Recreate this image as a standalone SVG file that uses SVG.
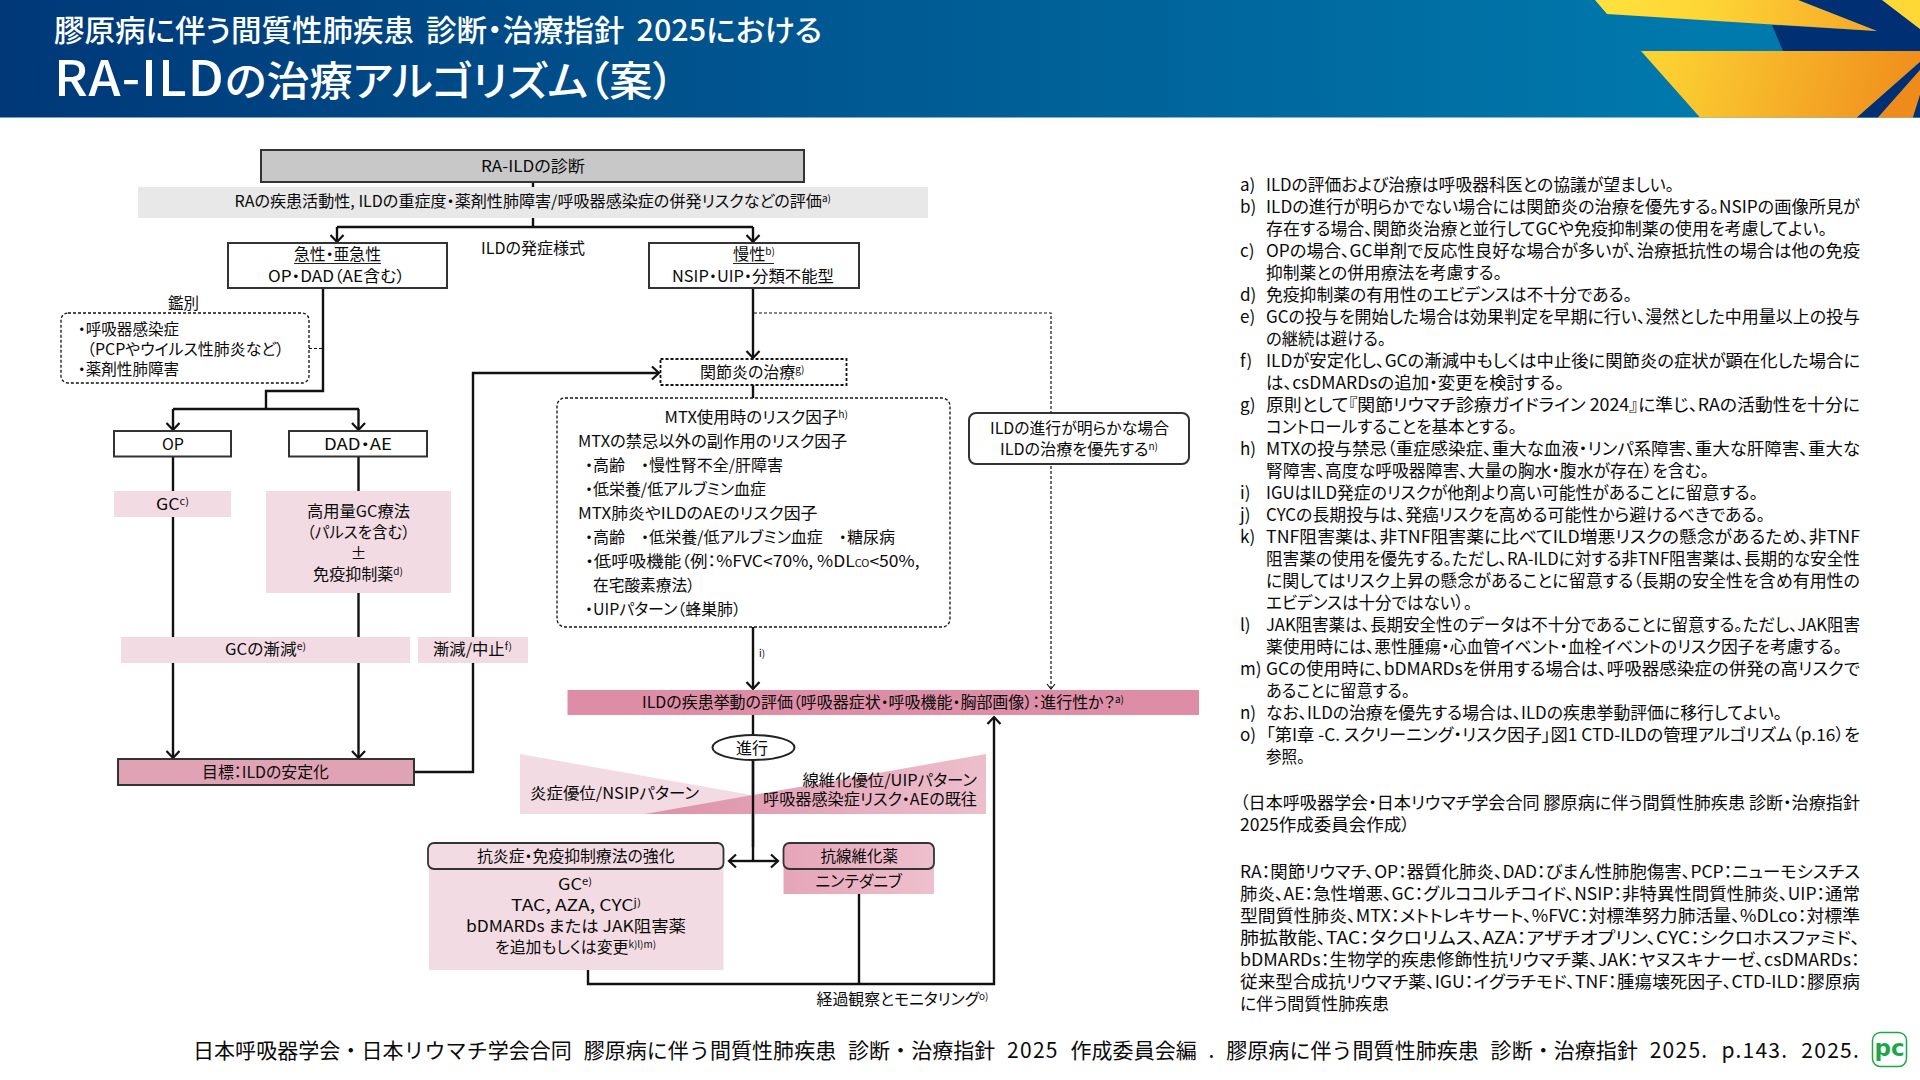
<svg xmlns="http://www.w3.org/2000/svg" width="1920" height="1080" viewBox="0 0 1920 1080">
<defs>
<linearGradient id="hd" x1="0" y1="0" x2="1700" y2="0" gradientUnits="userSpaceOnUse"><stop offset="0" stop-color="#003878"/><stop offset="1" stop-color="#0079ac"/></linearGradient>
<linearGradient id="yl" x1="1595" y1="0" x2="1877" y2="30" gradientUnits="userSpaceOnUse"><stop offset="0" stop-color="#ffe23e"/><stop offset="0.4" stop-color="#fdd535"/><stop offset="1" stop-color="#f7a628"/></linearGradient>
<linearGradient id="or" x1="1660" y1="51" x2="1920" y2="117" gradientUnits="userSpaceOnUse"><stop offset="0" stop-color="#fcd233"/><stop offset="1" stop-color="#ef8b1b"/></linearGradient>
<linearGradient id="tri" x1="645" y1="0" x2="986" y2="0" gradientUnits="userSpaceOnUse"><stop offset="0" stop-color="#dc8aa3"/><stop offset="1" stop-color="#ebb9c8"/></linearGradient>
<linearGradient id="af" x1="784" y1="0" x2="934" y2="0" gradientUnits="userSpaceOnUse"><stop offset="0" stop-color="#e6a5b9"/><stop offset="1" stop-color="#eec0ce"/></linearGradient>
<marker id="ar" markerUnits="userSpaceOnUse" markerWidth="16" markerHeight="16" viewBox="-8 -8 16 16" refX="0" refY="0" orient="auto"><path d="M-7,-6.5 L0,0 L-7,6.5" fill="none" stroke="#111" stroke-width="2.2"/></marker>
<marker id="ars" markerUnits="userSpaceOnUse" markerWidth="12" markerHeight="12" viewBox="-6 -6 12 12" refX="0" refY="0" orient="auto"><path d="M-5,-4 L0,0 L-5,4" fill="none" stroke="#111" stroke-width="1.1"/></marker>
</defs>
<style>
text{font-family:"Noto Sans CJK JP","Noto Sans",sans-serif;fill:#0a0a0a;font-feature-settings:"palt"}
.d{font-size:16px}
.n{font-size:17px}
.f{font-size:21px;font-feature-settings:normal;word-spacing:7px}
.s{font-size:10px}
.t{fill:#fff;font-weight:500}
.bx{fill:#fff;stroke:#333;stroke-width:2}
.dash{fill:#fff;stroke:#111;stroke-width:1.3;stroke-dasharray:3 2}
.ln{fill:none;stroke:#111;stroke-width:2.4}
.lnd{fill:none;stroke:#111;stroke-width:1.2;stroke-dasharray:3 2}
.pk{fill:#f3dbe3}
</style>

<g id="header">
<rect x="0" y="0" width="1920" height="117.5" fill="url(#hd)"/>
<polygon points="1798,0 1877,31 1772,25 1783,51 1920,51 1920,29 1882,0" fill="#002f73"/>
<polygon points="1595,0 1607,14 1877,31 1798,0" fill="url(#yl)"/>
<polygon points="1882,0 1920,0 1920,29" fill="#fdd836"/>
<polygon points="1641,51 1920,51 1920,62 1857,117.5 1700,117.5" fill="url(#or)"/>
<polygon points="1920,62 1857,117.5 1878,117.5 1920,70" fill="#002f73"/>
<polygon points="1920,70 1878,117.5 1913,117.5 1920,95" fill="#ef8b1b"/>
<polygon points="1920,95 1913,117.5 1920,117.5" fill="#002f73"/>
<text class="t" x="54" y="41" font-size="30" word-spacing="5" textLength="768" lengthAdjust="spacingAndGlyphs">膠原病に伴う間質性肺疾患 診断・治療指針 2025における</text>
<text class="t" x="54" y="96" font-size="41" textLength="620" lengthAdjust="spacingAndGlyphs"><tspan font-size="49" letter-spacing="1">RA-ILD</tspan>の治療アルゴリズム（案）</text>
</g>

<g id="connectors">
<path class="ln" d="M533,182V227"/>
<path class="ln" d="M337,227H753"/>
<path class="ln" d="M337,227V242" marker-end="url(#ar)"/>
<path class="ln" d="M753,227V242" marker-end="url(#ar)"/>
<path class="ln" d="M323,288V391H266V409"/>
<path class="ln" d="M173,409H359"/>
<path class="ln" d="M173,409V430" marker-end="url(#ar)"/>
<path class="ln" d="M358.5,409V430" marker-end="url(#ar)"/>
<path class="ln" d="M173,456V758" marker-end="url(#ar)"/>
<path class="ln" d="M358.5,456V758" marker-end="url(#ar)"/>
<path class="ln" d="M414,772H473V373H659" marker-end="url(#ar)"/>
<path class="ln" d="M753,288V358" marker-end="url(#ar)"/>
<path class="ln" d="M753,385V398"/>
<path class="ln" d="M753,627V689" marker-end="url(#ar)"/>
<path class="ln" d="M753,715V861"/>
<path class="ln" d="M753,861H729" marker-end="url(#ar)"/>
<path class="ln" d="M753,861H778" marker-end="url(#ar)"/>
<path class="ln" d="M588,970V984H994V717" marker-end="url(#ar)"/>
<path class="ln" d="M859,894V984"/>
<path class="lnd" d="M309,348.5H323"/>
<path class="lnd" d="M754,313H1051V689" marker-end="url(#ars)"/>
</g>

<g id="node-diagnosis">
<rect x="261" y="150" width="543" height="32" fill="#c8c8c8" stroke="#333" stroke-width="2"/>
<text class="d" x="481" y="171.5" textLength="104" lengthAdjust="spacingAndGlyphs">RA-ILDの診断</text>
</g>
<g id="node-evaluation">
<rect x="138" y="187" width="790" height="31" fill="#e8e8e8"/>
<text class="d" x="234.5" y="206.5" textLength="596.5" lengthAdjust="spacingAndGlyphs">RAの疾患活動性, ILDの重症度・薬剤性肺障害/呼吸器感染症の併発リスクなどの評価<tspan class="s" dy="-5">a)</tspan></text>
</g>
<g id="node-onset-label"><text class="d" x="481" y="253.5" textLength="104" lengthAdjust="spacingAndGlyphs">ILDの発症様式</text></g>
<g id="node-acute">
<rect class="bx" x="228" y="243" width="219" height="45"/>
<text class="d" x="294" y="259.5" textLength="87" lengthAdjust="spacingAndGlyphs">急性・亜急性</text>
<path d="M294,263.5H381" stroke="#222" stroke-width="1"/>
<text class="d" x="268" y="281.5" textLength="137" lengthAdjust="spacingAndGlyphs">OP・DAD（AE含む）</text>
</g>
<g id="node-chronic">
<rect class="bx" x="649" y="243" width="210" height="45"/>
<text class="d" x="733" y="259.5" textLength="42" lengthAdjust="spacingAndGlyphs">慢性<tspan class="s" dy="-5">b)</tspan></text>
<path d="M733,263.5H774" stroke="#222" stroke-width="1"/>
<text class="d" x="672" y="281.5" textLength="162" lengthAdjust="spacingAndGlyphs">NSIP・UIP・分類不能型</text>
</g>
<g id="node-differential">
<text class="d" x="168" y="308.5" textLength="31" lengthAdjust="spacingAndGlyphs">鑑別</text>
<rect class="dash" x="61" y="313" width="248" height="70" rx="7"/>
<text class="d" x="78" y="334.5" textLength="101" lengthAdjust="spacingAndGlyphs">・呼吸器感染症</text>
<text class="d" x="87" y="354.5" textLength="197" lengthAdjust="spacingAndGlyphs">（PCPやウイルス性肺炎など）</text>
<text class="d" x="78" y="374.5" textLength="101" lengthAdjust="spacingAndGlyphs">・薬剤性肺障害</text>
</g>
<g id="node-op">
<rect class="bx" x="114" y="431" width="117" height="25.5"/>
<text class="d" x="173" y="449.5" text-anchor="middle">OP</text>
</g>
<g id="node-dad">
<rect class="bx" x="289" y="431" width="138" height="25.5"/>
<text class="d" x="324" y="449.5" textLength="68" lengthAdjust="spacingAndGlyphs">DAD・AE</text>
</g>
<g id="node-gc">
<rect class="pk" x="114" y="491" width="117" height="26"/>
<text class="d" x="156" y="509.5" textLength="33" lengthAdjust="spacingAndGlyphs">GC<tspan class="s" dy="-5">c)</tspan></text>
</g>
<g id="node-highdose">
<rect class="pk" x="266" y="491" width="185" height="102"/>
<text class="d" x="307" y="516.5" textLength="103" lengthAdjust="spacingAndGlyphs">高用量GC療法</text>
<text class="d" x="307" y="537.5" textLength="103" lengthAdjust="spacingAndGlyphs">（パルスを含む）</text>
<text class="d" x="358.5" y="558.5" text-anchor="middle">±</text>
<text class="d" x="313" y="579.5" textLength="90" lengthAdjust="spacingAndGlyphs">免疫抑制薬<tspan class="s" dy="-5">d)</tspan></text>
</g>
<g id="node-taper">
<rect class="pk" x="121" y="637" width="289" height="26"/>
<text class="d" x="225" y="654.5" textLength="81" lengthAdjust="spacingAndGlyphs">GCの漸減<tspan class="s" dy="-5">e)</tspan></text>
</g>
<g id="node-stop">
<rect class="pk" x="418" y="637" width="110" height="26"/>
<text class="d" x="433" y="654.5" textLength="79" lengthAdjust="spacingAndGlyphs">漸減/中止<tspan class="s" dy="-5">f)</tspan></text>
</g>
<g id="node-goal">
<rect x="118" y="759" width="296" height="26" fill="#e0a2b5" stroke="#333" stroke-width="2"/>
<text class="d" x="202" y="777.5" textLength="127" lengthAdjust="spacingAndGlyphs">目標：ILDの安定化</text>
</g>
<g id="node-joint">
<rect x="660.5" y="359" width="186" height="26" fill="#fff" stroke="#111" stroke-width="1.8" stroke-dasharray="3 2"/>
<text class="d" x="700" y="377.5" textLength="104.5" lengthAdjust="spacingAndGlyphs">関節炎の治療<tspan class="s" dy="-5">g)</tspan></text>
</g>
<g id="node-mtx">
<rect class="dash" x="557" y="398" width="393" height="229" rx="8"/>
<text class="d" x="664.5" y="422.5" textLength="183.5" lengthAdjust="spacingAndGlyphs">MTX使用時のリスク因子<tspan class="s" dy="-5">h)</tspan></text>
<text class="d" x="578" y="446.5" textLength="269" lengthAdjust="spacingAndGlyphs">MTXの禁忌以外の副作用のリスク因子</text>
<text class="d" x="585" y="470.5" textLength="198" lengthAdjust="spacingAndGlyphs">・高齢　・慢性腎不全/肝障害</text>
<text class="d" x="585" y="494.5" textLength="181" lengthAdjust="spacingAndGlyphs">・低栄養/低アルブミン血症</text>
<text class="d" x="578" y="518.5" textLength="239.5" lengthAdjust="spacingAndGlyphs">MTX肺炎やILDのAEのリスク因子</text>
<text class="d" x="585" y="542.5" textLength="310" lengthAdjust="spacingAndGlyphs">・高齢　・低栄養/低アルブミン血症　・糖尿病</text>
<text class="d" x="585" y="567" textLength="334.5" lengthAdjust="spacingAndGlyphs">・低呼吸機能（例：%FVC&lt;70%, %DL<tspan font-size="10">CO</tspan>&lt;50%,</text>
<text class="d" x="593" y="590.5" textLength="102" lengthAdjust="spacingAndGlyphs">在宅酸素療法）</text>
<text class="d" x="585" y="614.5" textLength="156" lengthAdjust="spacingAndGlyphs">・UIPパターン（蜂巣肺）</text>
</g>
<g id="node-priority">
<rect x="969" y="413" width="220" height="51" rx="7" fill="#fff" stroke="#333" stroke-width="2"/>
<text class="d" x="990" y="433.5" textLength="179" lengthAdjust="spacingAndGlyphs">ILDの進行が明らかな場合</text>
<text class="d" x="1000" y="454.5" textLength="158" lengthAdjust="spacingAndGlyphs">ILDの治療を優先する<tspan class="s" dy="-5">n)</tspan></text>
</g>
<g id="label-i"><text class="s" x="759" y="657">i)</text></g>
<g id="node-course">
<rect x="567.5" y="690" width="631.5" height="25" fill="#dd8da5"/>
<text class="d" x="642" y="707.5" textLength="482" lengthAdjust="spacingAndGlyphs">ILDの疾患挙動の評価（呼吸器症状・呼吸機能・胸部画像）：進行性か？<tspan class="s" dy="-5">a)</tspan></text>
</g>
<g id="node-balance">
<polygon points="520,754 520,814 859,814" fill="#f3dbe3"/>
<polygon points="986,754 986,814 645,814" fill="url(#tri)" fill-opacity="0.92"/>
<path class="ln" d="M753,760V847"/>
<text class="d" x="530" y="798.5" textLength="169" lengthAdjust="spacingAndGlyphs">炎症優位/NSIPパターン</text>
<text class="d" x="802.5" y="785.5" textLength="174.5" lengthAdjust="spacingAndGlyphs">線維化優位/UIPパターン</text>
<text class="d" x="763" y="804.5" textLength="214" lengthAdjust="spacingAndGlyphs">呼吸器感染症リスク・AEの既往</text>
</g>
<g id="node-progress">
<ellipse cx="753.5" cy="747.5" rx="41" ry="12.5" fill="#fff" stroke="#222" stroke-width="2"/>
<text class="d" x="752" y="753.5" text-anchor="middle">進行</text>
</g>
<g id="node-immuno">
<rect class="pk" x="429" y="860" width="294.5" height="110"/>
<rect x="428" y="843" width="295.5" height="26" rx="6" fill="#f3dbe3" stroke="#333" stroke-width="1.8"/>
<text class="d" x="477" y="861.5" textLength="197.5" lengthAdjust="spacingAndGlyphs">抗炎症・免疫抑制療法の強化</text>
<text class="d" x="558" y="889.5" textLength="34" lengthAdjust="spacingAndGlyphs">GC<tspan class="s" dy="-5">e)</tspan></text>
<text class="d" x="511" y="910.5" textLength="130" lengthAdjust="spacingAndGlyphs">TAC, AZA, CYC<tspan class="s" dy="-5">j)</tspan></text>
<text class="d" x="466" y="931.5" textLength="220" lengthAdjust="spacingAndGlyphs">bDMARDs または JAK阻害薬</text>
<text class="d" x="495" y="952.5" textLength="161" lengthAdjust="spacingAndGlyphs">を追加もしくは変更<tspan class="s" dy="-5">k)l)m)</tspan></text>
</g>
<g id="node-antifibrotic">
<rect x="783.5" y="860" width="150.5" height="34" fill="url(#af)"/>
<rect x="783.5" y="843" width="150.5" height="26" rx="6" fill="url(#af)" stroke="#333" stroke-width="1.8"/>
<text class="d" x="820.5" y="861.5" textLength="77.5" lengthAdjust="spacingAndGlyphs">抗線維化薬</text>
<text class="d" x="815.5" y="886.5" textLength="86.5" lengthAdjust="spacingAndGlyphs">ニンテダニブ</text>
</g>
<g id="label-monitor"><text class="d" x="816.5" y="1004.5" textLength="172" lengthAdjust="spacingAndGlyphs">経過観察とモニタリング<tspan class="s" dy="-5">o)</tspan></text></g>

<g id="notes">
<text class="n" x="1240" y="191">a)</text><text class="n" x="1266" y="191" textLength="408" lengthAdjust="spacingAndGlyphs">ILDの評価および治療は呼吸器科医との協議が望ましい。</text>
<text class="n" x="1240" y="213">b)</text><text class="n" x="1266" y="213" textLength="594" lengthAdjust="spacingAndGlyphs">ILDの進行が明らかでない場合には関節炎の治療を優先する。NSIPの画像所見が</text>
<text class="n" x="1266" y="235" textLength="561" lengthAdjust="spacingAndGlyphs">存在する場合、関節炎治療と並行してGCや免疫抑制薬の使用を考慮してよい。</text>
<text class="n" x="1240" y="257">c)</text><text class="n" x="1266" y="257" textLength="594" lengthAdjust="spacingAndGlyphs">OPの場合、GC単剤で反応性良好な場合が多いが、治療抵抗性の場合は他の免疫</text>
<text class="n" x="1266" y="279" textLength="236" lengthAdjust="spacingAndGlyphs">抑制薬との併用療法を考慮する。</text>
<text class="n" x="1240" y="301">d)</text><text class="n" x="1266" y="301" textLength="366" lengthAdjust="spacingAndGlyphs">免疫抑制薬の有用性のエビデンスは不十分である。</text>
<text class="n" x="1240" y="323">e)</text><text class="n" x="1266" y="323" textLength="594" lengthAdjust="spacingAndGlyphs">GCの投与を開始した場合は効果判定を早期に行い、漫然とした中用量以上の投与</text>
<text class="n" x="1266" y="345" textLength="120" lengthAdjust="spacingAndGlyphs">の継続は避ける。</text>
<text class="n" x="1240" y="367">f)</text><text class="n" x="1266" y="367" textLength="594" lengthAdjust="spacingAndGlyphs">ILDが安定化し、GCの漸減中もしくは中止後に関節炎の症状が顕在化した場合に</text>
<text class="n" x="1266" y="389" textLength="298" lengthAdjust="spacingAndGlyphs">は、csDMARDsの追加・変更を検討する。</text>
<text class="n" x="1240" y="411">g)</text><text class="n" x="1266" y="411" textLength="594" lengthAdjust="spacingAndGlyphs">原則として『関節リウマチ診療ガイドライン 2024』に準じ、RAの活動性を十分に</text>
<text class="n" x="1266" y="433" textLength="251" lengthAdjust="spacingAndGlyphs">コントロールすることを基本とする。</text>
<text class="n" x="1240" y="455">h)</text><text class="n" x="1266" y="455" textLength="594" lengthAdjust="spacingAndGlyphs">MTXの投与禁忌（重症感染症、重大な血液・リンパ系障害、重大な肝障害、重大な</text>
<text class="n" x="1266" y="477" textLength="443" lengthAdjust="spacingAndGlyphs">腎障害、高度な呼吸器障害、大量の胸水・腹水が存在）を含む。</text>
<text class="n" x="1240" y="499">i)</text><text class="n" x="1266" y="499" textLength="492" lengthAdjust="spacingAndGlyphs">IGUはILD発症のリスクが他剤より高い可能性があることに留意する。</text>
<text class="n" x="1240" y="521">j)</text><text class="n" x="1266" y="521" textLength="499" lengthAdjust="spacingAndGlyphs">CYCの長期投与は、発癌リスクを高める可能性から避けるべきである。</text>
<text class="n" x="1240" y="543">k)</text><text class="n" x="1266" y="543" textLength="594" lengthAdjust="spacingAndGlyphs">TNF阻害薬は、非TNF阻害薬に比べてILD増悪リスクの懸念があるため、非TNF</text>
<text class="n" x="1266" y="565" textLength="594" lengthAdjust="spacingAndGlyphs">阻害薬の使用を優先する。ただし、RA-ILDに対する非TNF阻害薬は、長期的な安全性</text>
<text class="n" x="1266" y="587" textLength="594" lengthAdjust="spacingAndGlyphs">に関してはリスク上昇の懸念があることに留意する（長期の安全性を含め有用性の</text>
<text class="n" x="1266" y="609" textLength="206" lengthAdjust="spacingAndGlyphs">エビデンスは十分ではない）。</text>
<text class="n" x="1240" y="631">l)</text><text class="n" x="1266" y="631" textLength="594" lengthAdjust="spacingAndGlyphs">JAK阻害薬は、長期安全性のデータは不十分であることに留意する。ただし、JAK阻害</text>
<text class="n" x="1266" y="653" textLength="576" lengthAdjust="spacingAndGlyphs">薬使用時には、悪性腫瘍・心血管イベント・血栓イベントのリスク因子を考慮する。</text>
<text class="n" x="1240" y="675">m)</text><text class="n" x="1266" y="675" textLength="594" lengthAdjust="spacingAndGlyphs">GCの使用時に、bDMARDsを併用する場合は、呼吸器感染症の併発の高リスクで</text>
<text class="n" x="1266" y="697" textLength="144" lengthAdjust="spacingAndGlyphs">あることに留意する。</text>
<text class="n" x="1240" y="719">n)</text><text class="n" x="1266" y="719" textLength="516" lengthAdjust="spacingAndGlyphs">なお、ILDの治療を優先する場合は、ILDの疾患挙動評価に移行してよい。</text>
<text class="n" x="1240" y="741">o)</text><text class="n" x="1266" y="741" textLength="594" lengthAdjust="spacingAndGlyphs">「第I章 -C. スクリーニング・リスク因子」図1 CTD-ILDの管理アルゴリズム（p.16）を</text>
<text class="n" x="1266" y="763" textLength="39" lengthAdjust="spacingAndGlyphs">参照。</text>
<text class="n" x="1240" y="809" textLength="620" lengthAdjust="spacingAndGlyphs">（日本呼吸器学会・日本リウマチ学会合同 膠原病に伴う間質性肺疾患 診断・治療指針</text>
<text class="n" x="1240" y="831" textLength="170" lengthAdjust="spacingAndGlyphs">2025作成委員会作成）</text>
<text class="n" x="1240" y="878" textLength="620" lengthAdjust="spacingAndGlyphs">RA：関節リウマチ、OP：器質化肺炎、DAD：びまん性肺胞傷害、PCP：ニューモシスチス</text>
<text class="n" x="1240" y="900" textLength="620" lengthAdjust="spacingAndGlyphs">肺炎、AE：急性増悪、GC：グルココルチコイド、NSIP：非特異性間質性肺炎、UIP：通常</text>
<text class="n" x="1240" y="922" textLength="620" lengthAdjust="spacingAndGlyphs">型間質性肺炎、MTX：メトトレキサート、%FVC：対標準努力肺活量、%DLco：対標準</text>
<text class="n" x="1240" y="944" textLength="620" lengthAdjust="spacingAndGlyphs">肺拡散能、TAC：タクロリムス、AZA：アザチオプリン、CYC：シクロホスファミド、</text>
<text class="n" x="1240" y="966" textLength="620" lengthAdjust="spacingAndGlyphs">bDMARDs：生物学的疾患修飾性抗リウマチ薬、JAK：ヤヌスキナーゼ、csDMARDs：</text>
<text class="n" x="1240" y="988" textLength="620" lengthAdjust="spacingAndGlyphs">従来型合成抗リウマチ薬、IGU：イグラチモド、TNF：腫瘍壊死因子、CTD-ILD：膠原病</text>
<text class="n" x="1240" y="1010" textLength="149" lengthAdjust="spacingAndGlyphs">に伴う間質性肺疾患</text>
</g>

<g id="footer">
<text class="f" x="193" y="1057.5" textLength="1667" lengthAdjust="spacing">日本呼吸器学会・日本リウマチ学会合同 膠原病に伴う間質性肺疾患 診断・治療指針 <tspan letter-spacing="1.2">2025</tspan> 作成委員会編 . 膠原病に伴う間質性肺疾患 診断・治療指針 <tspan letter-spacing="1.2">2025. p.143. 2025.</tspan></text>
</g>
<g id="logo">
<rect x="1872.5" y="1032.5" width="34" height="34" rx="8" fill="#fff" stroke="#1ea64a" stroke-width="1.5"/>
<text x="1889.5" y="1056" text-anchor="middle" font-size="23" font-weight="700" style="font-family:'DejaVu Sans',sans-serif;fill:#1ea64a">pc</text>
</g>
</svg>
